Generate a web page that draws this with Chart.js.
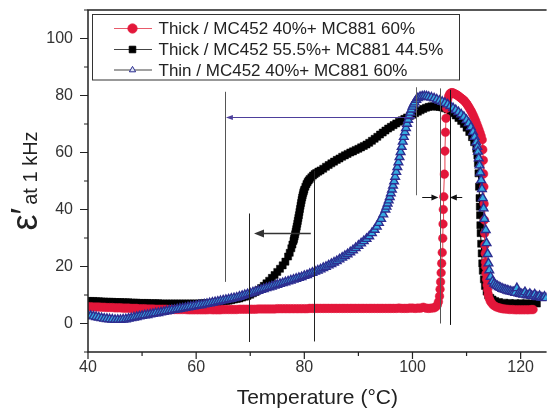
<!DOCTYPE html>
<html>
<head>
<meta charset="utf-8">
<title>Dielectric constant vs temperature</title>
<script src="https://cdn.jsdelivr.net/npm/chart.js"></script>
<style>
  html, body { margin: 0; padding: 0; background: #fff; }
  #chart1 { display: block; }
</style>
</head>
<body>
<canvas id="chart1" width="553" height="411"></canvas>
<script>
"use strict";

var FONT = '"Liberation Sans", Arial, Helvetica, sans-serif';

// axis ticks
var tempTicks = [40, 60, 80, 100, 120];
var tempMinorTicks = [50, 70, 90, 110];
var epsTicks = [0, 20, 40, 60, 80, 100];
var epsMinorTicks = [-10, 10, 30, 50, 70, 90, 110];

var seriesNames = [
	'Thick / MC452 40%+ MC881 60%',
	'Thick / MC452 55.5%+ MC881 44.5%',
	'Thin / MC452 40%+ MC881 60%'
];

// thick film, MC452 40% + MC881 60%
var thick4060T = [
	40, 40.5, 41, 41.5, 42, 42.5, 43, 43.5, 44, 44.5,
	45, 45.5, 46, 46.5, 47, 47.5, 48, 48.5, 49, 49.5,
	50, 50.5, 51, 51.5, 52, 52.5, 53, 53.5, 54, 54.5,
	55, 55.5, 56, 56.5, 57, 57.5, 58, 58.5, 59, 59.5,
	60, 60.5, 61, 61.5, 62, 62.5, 63, 63.5, 64, 64.5,
	65, 65.5, 66, 66.5, 67, 67.5, 68, 68.5, 69, 69.5,
	70, 70.5, 71, 71.5, 72, 72.5, 73, 73.5, 74, 74.5,
	75, 75.5, 76, 76.5, 77, 77.5, 78, 78.5, 79, 79.5,
	80, 80.5, 81, 81.5, 82, 82.5, 83, 83.5, 84, 84.5,
	85, 85.5, 86, 86.5, 87, 87.5, 88, 88.5, 89, 89.5,
	90, 90.5, 91, 91.5, 92, 92.5, 93, 93.5, 94, 94.5,
	95, 95.5, 96, 96.5, 97, 97.5, 98, 98.5, 99, 99.5,
	100, 100.5, 101, 101.5, 102, 102.5, 103, 103.5, 104,
	104.3, 104.6, 104.8, 105.0, 105.1, 105.2, 105.3, 105.4, 105.5, 105.6,
	105.65, 105.7, 105.8, 105.9, 106.0, 106.1, 106.2, 106.3, 106.5,
	106.7, 106.9, 107.1, 107.3, 107.5, 107.7, 107.9, 108.1, 108.3, 108.5,
	108.7, 108.9, 109.1, 109.3, 109.5, 109.7, 109.9, 110.1, 110.3, 110.5,
	110.7, 110.9, 111.1, 111.3, 111.5, 111.7, 111.9, 112.1, 112.3, 112.5,
	112.7, 112.9,
	113.0, 113.1, 113.15, 113.2, 113.25, 113.3, 113.35, 113.4, 113.45, 113.5,
	113.55, 113.6, 113.7, 113.8, 113.9, 114.0, 114.2, 114.4, 114.7, 115.0,
	115.4, 115.8, 116.2, 116.6, 117.0, 117.5, 118.0, 118.5, 119.0, 119.5,
	120.0, 120.5, 121.0, 121.5, 122.0, 122.3
];
var thick4060Eps = [
	5.9, 5.9, 5.8, 5.8, 5.8, 5.7, 5.7, 5.6, 5.6, 5.6,
	5.5, 5.5, 5.5, 5.4, 5.4, 5.4, 5.3, 5.3, 5.3, 5.2,
	5.2, 5.2, 5.1, 5.1, 5.1, 5.0, 5.0, 5.0, 5.0, 5.0,
	4.9, 4.9, 4.9, 4.9, 4.9, 4.9, 4.9, 4.8, 4.8, 4.8,
	4.8, 4.8, 4.8, 4.8, 4.8, 4.9, 4.8, 4.8, 4.8, 4.8,
	4.9, 4.9, 4.9, 4.9, 4.9, 4.9, 5.0, 5.0, 5.0, 5.0,
	5.0, 5.0, 5.0, 5.1, 5.1, 5.1, 5.1, 5.1, 5.1, 5.1,
	5.2, 5.2, 5.2, 5.2, 5.2, 5.2, 5.2, 5.2, 5.2, 5.2,
	5.2, 5.2, 5.3, 5.3, 5.3, 5.3, 5.3, 5.3, 5.3, 5.3,
	5.3, 5.3, 5.3, 5.3, 5.3, 5.3, 5.3, 5.3, 5.3, 5.3,
	5.3, 5.3, 5.3, 5.3, 5.3, 5.3, 5.3, 5.3, 5.3, 5.3,
	5.3, 5.3, 5.3, 5.3, 5.3, 5.4, 5.3, 5.3, 5.3, 5.4,
	5.4, 5.3, 5.4, 5.4, 5.7, 5.4, 5.3, 5.4, 5.5,
	5.8, 6.5, 7.6, 9.6, 12.0, 14.6, 17.8, 21.1, 24.9, 29.9,
	34.9, 40.0, 44.5, 52.4, 60.5, 67.1, 72.0, 75.5, 78.5,
	79.8, 80.6, 80.9, 81.0, 80.9, 80.7, 80.5, 80.3, 80.1, 79.8,
	79.5, 79.2, 78.9, 78.6, 78.3, 77.9, 77.4, 76.9, 76.3, 75.7,
	75.0, 74.4, 73.6, 72.8, 71.9, 71.0, 70.0, 69.0, 68.0, 66.9,
	65.8, 64.5,
	61.0, 57.3, 52.5, 48.0, 42.0, 36.3, 31.7, 27.5, 24.6, 21.5,
	19.9, 17.5, 15.5, 13.5, 11.8, 10.2, 8.8, 7.8, 7.0, 6.4,
	5.9, 5.6, 5.4, 5.2, 5.1, 5.0, 4.9, 4.9, 4.8, 4.8,
	4.8, 4.8, 4.8, 4.8, 4.9, 4.9
];

// thick film, MC452 55.5% + MC881 44.5%
var thick555T = [
	40, 40.5, 41, 41.5, 42, 42.5, 43, 43.5, 44, 44.5,
	45, 45.5, 46, 46.5, 47, 47.5, 48, 48.5, 49, 49.5,
	50, 50.5, 51, 51.5, 52, 52.5, 53, 53.5, 54, 54.5,
	55, 55.5, 56, 56.5, 57, 57.5, 58, 58.5, 59, 59.5,
	60, 60.5, 61, 61.5, 62, 62.5, 63, 63.5, 64, 64.5,
	65, 65.5, 66, 66.5, 67, 67.5, 68, 68.5, 69, 69.5,
	70, 70.5, 71, 71.5, 72, 72.5, 73, 73.5, 74, 74.5,
	75, 75.5, 76, 76.5,
	77.0, 77.3, 77.6, 77.8, 78.0, 78.1, 78.2, 78.3, 78.4, 78.5,
	78.6, 78.7, 78.8, 78.9, 79.0, 79.1, 79.2, 79.3, 79.4, 79.5,
	79.6, 79.7, 79.8, 79.9, 80.0, 80.2, 80.4, 80.6, 80.8, 81.0,
	81.3, 81.6, 81.9, 82.2, 82.6, 83.0, 83.5,
	84, 84.5, 85, 85.5, 86, 86.5, 87, 87.5, 88, 88.5,
	89, 89.5, 90, 90.5, 91, 91.5, 92, 92.5, 93, 93.5,
	94, 94.5, 95, 95.5, 96, 96.5, 97, 97.5, 98, 98.5,
	99, 99.5, 100, 100.5, 101, 101.5, 102, 102.5, 103, 103.5,
	104, 104.5, 105, 105.5, 106, 106.5, 107, 107.5, 108, 108.5,
	109, 109.5, 110, 110.5, 111,
	111.4, 111.8, 112.0, 112.1, 112.2, 112.3, 112.4, 112.45, 112.5, 112.55,
	112.6, 112.7, 112.8, 112.9, 113.0, 113.2, 113.4, 113.7, 114.0, 114.4,
	114.8, 115.3, 116.0, 117.0, 118.0, 119.0, 120.0, 121.0, 122.0, 123.0
];
var thick555Eps = [
	7.9, 7.9, 7.9, 7.8, 7.8, 7.7, 7.7, 7.6, 7.6, 7.6,
	7.5, 7.5, 7.5, 7.4, 7.4, 7.4, 7.3, 7.3, 7.3, 7.2,
	7.2, 7.2, 7.2, 7.1, 7.1, 7.1, 7.1, 7.0, 7.0, 7.0,
	7.0, 7.0, 7.0, 7.0, 7.0, 7.0, 7.0, 7.0, 7.0, 7.0,
	7.0, 7.0, 7.1, 7.1, 7.1, 7.2, 7.3, 7.4, 7.5, 7.6,
	7.7, 7.9, 8.0, 8.2, 8.4, 8.6, 8.8, 9.1, 9.4, 9.7,
	10.1, 10.6, 11.1, 11.7, 12.4, 13.2, 14.1, 15.0, 16.0, 17.0,
	18.1, 19.2, 20.4, 21.7,
	23.5, 24.8, 26.4, 27.7, 29.0, 29.7, 30.5, 31.3, 32.2, 33.1,
	34.0, 35.0, 36.0, 37.0, 38.0, 39.1, 40.2, 41.3, 42.3, 43.3,
	44.2, 45.0, 45.8, 46.4, 47.0, 48.0, 48.9, 49.6, 50.2, 50.7,
	51.3, 51.9, 52.4, 52.8, 53.3, 53.7, 54.3,
	55.0, 55.6, 56.2, 56.8, 57.4, 57.9, 58.5, 59.0, 59.5, 60.0,
	60.4, 60.9, 61.3, 61.8, 62.3, 62.8, 63.4, 64.1, 64.8, 65.5,
	66.3, 67.0, 67.7, 68.4, 69.0, 69.6, 70.2, 70.8, 71.3, 71.8,
	72.3, 72.8, 73.3, 73.8, 74.3, 74.8, 75.3, 75.7, 76.0, 76.2,
	76.2, 76.1, 76.0, 75.8, 75.5, 75.1, 74.5, 73.8, 73.0, 72.1,
	71.1, 70.0, 68.7, 67.2, 65.4,
	63.6, 61.3, 59.0, 56.2, 52.7, 48.0, 44.0, 41.0, 38.0, 34.5,
	31.7, 28.0, 24.6, 21.1, 18.5, 15.5, 13.2, 11.2, 9.9, 9.0,
	8.4, 7.9, 7.5, 7.3, 7.2, 7.1, 7.1, 7.1, 7.0, 7.0
];

// thin film, MC452 40% + MC881 60%
var thinT = [
	40, 40.5, 41, 41.5, 42, 42.5, 43, 43.5, 44, 44.5,
	45, 45.5, 46, 46.5, 47, 47.5, 48, 48.5, 49, 49.5,
	50, 50.5, 51, 51.5, 52, 52.5, 53, 53.5, 54, 54.5,
	55, 55.5, 56, 56.5, 57, 57.5, 58, 58.5, 59, 59.5,
	60, 60.5, 61, 61.5, 62, 62.5, 63, 63.5, 64, 64.5,
	65, 65.5, 66, 66.5, 67, 67.5, 68, 68.5, 69, 69.5,
	70, 70.5, 71, 71.5, 72, 72.5, 73, 73.5, 74, 74.5,
	75, 75.5, 76, 76.5, 77, 77.5, 78, 78.5, 79, 79.5,
	80, 80.5, 81, 81.5, 82, 82.5, 83, 83.5, 84, 84.5,
	85, 85.5, 86, 86.5, 87, 87.5, 88, 88.5, 89, 89.5,
	90, 90.5, 91, 91.5,
	92.0, 92.5, 93.0, 93.4, 93.8, 94.2, 94.6,
	95.0, 95.2, 95.4, 95.6, 95.8, 96.0, 96.2, 96.4, 96.6, 96.8,
	97.0, 97.2, 97.4, 97.6, 97.8, 98.0, 98.2, 98.4, 98.6, 98.8,
	99.0, 99.2, 99.4, 99.6, 99.8, 100.0, 100.2, 100.4,
	100.7, 101.0, 101.4, 101.8, 102.2, 102.6, 103.0, 103.5,
	104.0, 104.5, 105.0, 105.5, 106.0, 106.5, 107.0, 107.5, 108.0, 108.5,
	109.0, 109.5, 110.0, 110.4, 110.8, 111.2, 111.5, 111.8, 112.0,
	112.1, 112.25, 112.4, 112.55, 112.7, 112.85, 113.0, 113.15, 113.3, 113.55,
	113.7, 113.9, 114.05, 114.2, 114.45, 114.8, 115.1, 115.4, 115.7, 116.0,
	116.3, 116.6, 116.9, 117.2, 117.5, 117.8, 118.1, 118.4, 118.7, 119.0,
	119.3, 119.6, 119.9, 120.2, 120.5, 120.8, 121.1, 121.4, 121.7, 122.0,
	122.3, 122.6, 122.9, 123.2, 123.5, 123.8, 124.1, 124.4, 124.7
];
var thinEps = [
	2.9, 2.7, 2.5, 2.3, 2.1, 1.9, 1.7, 1.6, 1.5, 1.4,
	1.3, 1.3, 1.3, 1.4, 1.5, 1.7, 1.9, 2.1, 2.3, 2.5,
	2.7, 2.9, 3.0, 3.2, 3.4, 3.6, 3.7, 3.9, 4.1, 4.3,
	4.5, 4.7, 4.8, 5.0, 5.2, 5.3, 5.5, 5.7, 5.9, 6.0,
	6.2, 6.4, 6.5, 6.7, 6.9, 7.1, 7.3, 7.5, 7.7, 7.9,
	8.1, 8.3, 8.5, 8.7, 8.9, 9.1, 9.4, 9.7, 10.0, 10.3,
	10.6, 10.9, 11.2, 11.5, 11.8, 12.1, 12.4, 12.7, 13.0, 13.3,
	13.6, 13.9, 14.2, 14.5, 14.8, 15.1, 15.4, 15.7, 16.0, 16.3,
	16.7, 17.0, 17.4, 17.8, 18.2, 18.6, 19.0, 19.5, 19.9, 20.4,
	20.9, 21.4, 21.9, 22.5, 23.1, 23.7, 24.3, 25.0, 25.7, 26.5,
	27.3, 28.1, 28.9, 29.7,
	30.6, 31.7, 32.9, 34.0, 35.3, 36.7, 38.3,
	40.0, 41.0, 42.1, 43.2, 44.4, 45.7, 47.0, 48.4, 49.9, 51.5,
	53.2, 54.9, 56.6, 58.4, 60.2, 62.0, 63.8, 65.5, 67.1, 68.6,
	70.1, 71.5, 72.8, 74.0, 75.1, 76.1, 76.9, 77.6,
	78.5, 79.1, 79.5, 79.7, 79.8, 79.7, 79.5, 79.3,
	79.0, 78.6, 78.2, 77.8, 77.4, 76.9, 76.3, 75.6, 74.9, 74.2,
	73.4, 72.5, 71.4, 70.3, 68.9, 67.2, 65.5, 63.6, 62.0,
	60.3, 58.0, 55.5, 53.0, 50.3, 47.2, 44.0, 40.4, 36.7, 32.8,
	28.2, 24.4, 21.1, 18.7, 16.4, 14.8, 14.0, 13.5, 13.1, 12.8,
	12.5, 12.2, 12.0, 11.8, 11.6, 11.4, 11.3, 11.1, 11.0, 10.8,
	12.4, 10.6, 10.4, 10.3, 10.2, 11.0, 10.0, 9.9, 10.4, 9.7,
	9.6, 10.2, 9.4, 9.3, 9.7, 9.1, 9.0, 9.4, 8.9
];

// transition guide lines (temperature, from, to) and shift arrows
var guideT = [65.4, 69.7, 81.8, 100.7, 105.0, 106.9];
var guideFrom = [14.6, -6.5, -6.3, 45.0, 0.0, -0.5];
var guideTo = [81.3, 38.6, 53.6, 82.9, 82.5, 82.0];
var arrowStartT = [100.5, 81.2, 101.8, 109.2];
var arrowEndT = [65.5, 70.7, 104.8, 106.9];
var arrowEps = [72.4, 31.8, 44.3, 44.3];

function toPoints(t, e) {
	return t.map(function (v, i) { return { x: v, y: e[i] }; });
}

function drawMarker(ctx, style, x, y, r) {
	ctx.beginPath();
	if (style === 'circle') {
		ctx.arc(x, y, r, 0, Math.PI * 2);
	} else if (style === 'rect') {
		var s = r * Math.SQRT1_2;
		ctx.rect(x - s, y - s, 2 * s, 2 * s);
	} else {
		ctx.moveTo(x, y - r);
		ctx.lineTo(x + r * 0.866, y + r * 0.5);
		ctx.lineTo(x - r * 0.866, y + r * 0.5);
		ctx.closePath();
	}
	ctx.fill();
	ctx.stroke();
}

function drawArrow(ctx, x1, y, x2, color, width, head, half) {
	var dir = x2 > x1 ? 1 : -1;
	ctx.strokeStyle = color;
	ctx.fillStyle = color;
	ctx.lineWidth = width;
	ctx.beginPath();
	ctx.moveTo(x1, y);
	ctx.lineTo(x2 - dir * head * 0.7, y);
	ctx.stroke();
	ctx.beginPath();
	ctx.moveTo(x2, y);
	ctx.lineTo(x2 - dir * head, y - half);
	ctx.lineTo(x2 - dir * head, y + half);
	ctx.closePath();
	ctx.fill();
}

var guideColor = ['#555', '#222', '#222', '#666', '#555', '#111'];
var arrowStyle = [
	{ color: '#4d3f9b', width: 1, head: 7, half: 2.5 },
	{ color: '#333', width: 1.5, head: 10, half: 4 },
	{ color: '#111', width: 1, head: 7, half: 3 },
	{ color: '#111', width: 1, head: 7, half: 3 }
];

var legendStyle = [
	{ line: '#e85a6a', marker: 'circle', r: 4.6, fill: '#e3173a', stroke: '#e3173a' },
	{ line: '#444', marker: 'rect', r: 4.6, fill: '#000', stroke: '#000' },
	{ line: '#444', marker: 'triangle', r: 3.6, fill: '#dfe6f5', stroke: '#2b2d8f' }
];

// scale labels should not push the plot area in from the canvas edges
function dropPadding(scale) {
	scale.paddingTop = 0;
	scale.paddingBottom = 0;
	scale.paddingLeft = 0;
	scale.paddingRight = 0;
}

var decorPlugin = {
	id: 'decor',
	afterDatasetsDraw: function (chart) {
		var ctx = chart.ctx, xs = chart.scales.x, ys = chart.scales.y;
		ctx.save();

		// guide lines
		guideT.forEach(function (t, i) {
			var px = Math.round(xs.getPixelForValue(t)) + 0.5;
			ctx.strokeStyle = guideColor[i];
			ctx.lineWidth = 1;
			ctx.beginPath();
			ctx.moveTo(px, ys.getPixelForValue(guideFrom[i]));
			ctx.lineTo(px, ys.getPixelForValue(guideTo[i]));
			ctx.stroke();
		});

		// arrows
		arrowStartT.forEach(function (t, i) {
			var s = arrowStyle[i];
			drawArrow(ctx, xs.getPixelForValue(t), Math.round(ys.getPixelForValue(arrowEps[i])) + 0.5,
				xs.getPixelForValue(arrowEndT[i]), s.color, s.width, s.head, s.half);
		});

		// legend box
		var lx = 92.5, ly = 14.5, lw = 367, lh = 65.5;
		ctx.fillStyle = '#fff';
		ctx.fillRect(lx, ly, lw, lh);
		ctx.strokeStyle = '#333';
		ctx.lineWidth = 1;
		ctx.strokeRect(lx, ly, lw, lh);
		var rows = [28.5, 49.5, 70];
		ctx.font = '17px ' + FONT;
		ctx.textBaseline = 'middle';
		ctx.textAlign = 'left';
		seriesNames.forEach(function (name, i) {
			var st = legendStyle[i], y = rows[i];
			ctx.strokeStyle = st.line;
			ctx.lineWidth = 1.2;
			ctx.beginPath();
			ctx.moveTo(114, y);
			ctx.lineTo(152, y);
			ctx.stroke();
			ctx.fillStyle = st.fill;
			ctx.strokeStyle = st.stroke;
			ctx.lineWidth = 1;
			drawMarker(ctx, st.marker, 132.5, y, st.r);
			ctx.fillStyle = '#222';
			ctx.fillText(name, 158.5, y + 1);
		});
		ctx.restore();
	},
	afterDraw: function (chart) {
		var ctx = chart.ctx, a = chart.chartArea, xs = chart.scales.x, ys = chart.scales.y;
		ctx.save();

		// frame: left axis, bottom axis, top line
		ctx.strokeStyle = '#222';
		ctx.lineWidth = 1.5;
		ctx.beginPath();
		ctx.moveTo(a.right, a.top);
		ctx.lineTo(a.left, a.top);
		ctx.lineTo(a.left, a.bottom);
		ctx.lineTo(a.right, a.bottom);
		ctx.stroke();

		// tick marks, major and minor
		ctx.lineWidth = 1.2;
		ctx.beginPath();
		tempTicks.forEach(function (v) {
			var px = xs.getPixelForValue(v);
			ctx.moveTo(px, a.bottom); ctx.lineTo(px, a.bottom + 7);
		});
		tempMinorTicks.forEach(function (v) {
			var px = xs.getPixelForValue(v);
			ctx.moveTo(px, a.bottom); ctx.lineTo(px, a.bottom + 4);
		});
		epsTicks.forEach(function (v) {
			var py = ys.getPixelForValue(v);
			ctx.moveTo(a.left, py); ctx.lineTo(a.left - 8, py);
		});
		epsMinorTicks.forEach(function (v) {
			var py = ys.getPixelForValue(v);
			ctx.moveTo(a.left, py); ctx.lineTo(a.left - 4, py);
		});
		ctx.stroke();

		// y axis title: epsilon prime with "at 1 kHz" subscript
		var main = 'ε′', sub = 'at 1 kHz';
		ctx.font = '36px ' + FONT;
		var w1 = ctx.measureText(main).width;
		ctx.font = '20px ' + FONT;
		var w2 = ctx.measureText(sub).width;
		var total = w1 + 3 + w2;
		var cy = (a.top + a.bottom) / 2;
		ctx.translate(37, cy + total / 2);
		ctx.rotate(-Math.PI / 2);
		ctx.fillStyle = '#222';
		ctx.textBaseline = 'alphabetic';
		ctx.textAlign = 'left';
		ctx.font = '36px ' + FONT;
		ctx.fillText(main, 0, 0);
		ctx.font = '20px ' + FONT;
		ctx.fillText(sub, w1 + 3, 0);
		ctx.restore();
	}
};

// chart1
var ctx = document.getElementById('chart1').getContext('2d');
var myChart = new Chart(ctx, {
	type: 'scatter',
	data: {
		datasets: [{
			label: seriesNames[0],
			data: toPoints(thick4060T, thick4060Eps),
			showLine: true,
			borderColor: '#e8414f',
			borderWidth: 1,
			pointStyle: 'circle',
			pointRadius: 4.3,
			pointBackgroundColor: '#e3173a',
			pointBorderColor: '#e3173a',
			pointBorderWidth: 0.5,
			order: 1
		},
		{
			label: seriesNames[1],
			data: toPoints(thick555T, thick555Eps),
			showLine: true,
			borderColor: '#000',
			borderWidth: 1,
			pointStyle: 'rect',
			pointRadius: 5,
			pointBackgroundColor: '#000',
			pointBorderColor: '#000',
			pointBorderWidth: 0.5,
			order: 2
		},
		{
			label: seriesNames[2],
			data: toPoints(thinT, thinEps),
			showLine: true,
			borderColor: '#2b2d8f',
			borderWidth: 1,
			pointStyle: 'triangle',
			pointRadius: 5,
			pointBackgroundColor: '#36ace2',
			pointBorderColor: '#2e2e90',
			pointBorderWidth: 1.4,
			order: 0
		}]
	},
	options: {
		responsive: false,
		animation: false,
		events: [],
		layout: {
			padding: { top: 10, right: 0, bottom: 0, left: 0 }
		},
		plugins: {
			legend: { display: false },
			tooltip: { enabled: false }
		},
		scales: {
			x: {
				type: 'linear',
				min: 40,
				max: 124.8,
				afterBuildTicks: function (scale) {
					scale.ticks = tempTicks.map(function (v) { return { value: v }; });
				},
				afterFit: function (scale) {
					scale.height = 59;
					dropPadding(scale);
				},
				grid: { display: false, drawTicks: false },
				border: { display: false },
				ticks: {
					padding: 6,
					color: '#333',
					autoSkip: false,
					maxRotation: 0,
					font: { family: FONT, size: 16 }
				},
				title: {
					display: true,
					text: 'Temperature (°C)',
					color: '#222',
					padding: { top: 0, bottom: 0 },
					font: { family: FONT, size: 21 }
				}
			},
			y: {
				type: 'linear',
				min: -10,
				max: 110,
				afterBuildTicks: function (scale) {
					scale.ticks = epsTicks.map(function (v) { return { value: v }; });
				},
				afterFit: function (scale) {
					scale.width = 88;
					dropPadding(scale);
				},
				grid: { display: false, drawTicks: false },
				border: { display: false },
				ticks: {
					padding: 15,
					color: '#333',
					font: { family: FONT, size: 16 }
				}
			}
		}
	},
	plugins: [decorPlugin]
});
</script>
</body>
</html>
